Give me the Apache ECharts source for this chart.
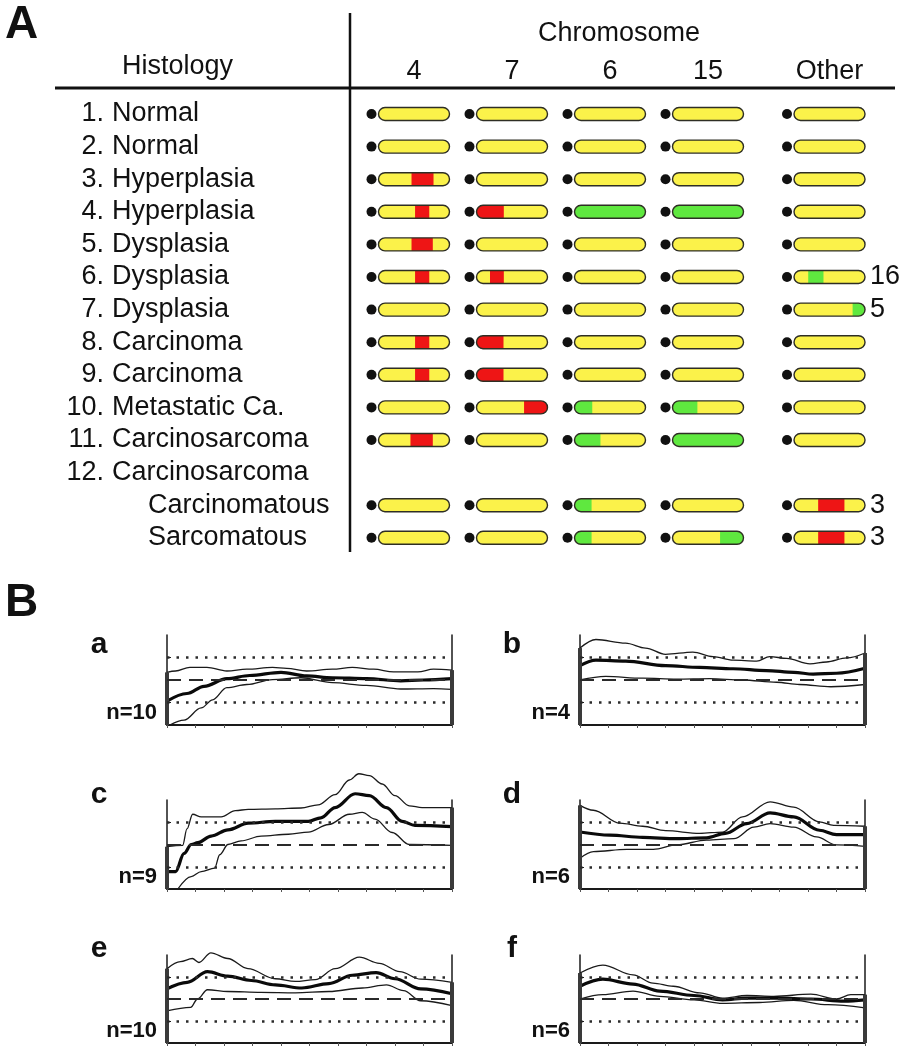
<!DOCTYPE html>
<html>
<head>
<meta charset="utf-8">
<script src="https://cdn.jsdelivr.net/npm/echarts@6/dist/echarts.min.js"></script>
<style>
  html, body { margin: 0; padding: 0; background: #fff; }
  #chart { width: 906px; height: 1050px; }
</style>
</head>
<body>
<div id="chart"></div>
<script>
const FONT = '"Liberation Sans", Arial, Helvetica, sans-serif'

// ---------- Panel A data ----------
const chromosomes = ['4', '7', '6', '15', 'Other']
const rowNumbers = ['1.', '2.', '3.', '4.', '5.', '6.', '7.', '8.', '9.', '10.', '11.', '12.', '', '']
const rowNames = ['Normal', 'Normal', 'Hyperplasia', 'Hyperplasia', 'Dysplasia', 'Dysplasia', 'Dysplasia',
  'Carcinoma', 'Carcinoma', 'Metastatic Ca.', 'Carcinosarcoma', 'Carcinosarcoma', 'Carcinomatous', 'Sarcomatous']
const rowsWithoutBars = [11]
// [row, chromosome column, from, to] as fraction of chromosome length
const gains = [
  [2, 0, 0.465, 0.775], [3, 0, 0.515, 0.715], [4, 0, 0.465, 0.765], [5, 0, 0.515, 0.715],
  [7, 0, 0.515, 0.715], [8, 0, 0.515, 0.715], [10, 0, 0.45, 0.765],
  [3, 1, 0, 0.385], [5, 1, 0.19, 0.385], [7, 1, 0, 0.38], [8, 1, 0, 0.38], [9, 1, 0.67, 1],
  [12, 4, 0.34, 0.71], [13, 4, 0.34, 0.71]
]
const losses = [
  [3, 2, 0, 1], [9, 2, 0, 0.25], [10, 2, 0, 0.365], [12, 2, 0, 0.24], [13, 2, 0, 0.24],
  [3, 3, 0, 1], [9, 3, 0, 0.35], [10, 3, 0, 1], [13, 3, 0.67, 1],
  [5, 4, 0.2, 0.415], [6, 4, 0.825, 1]
]
// chromosome number noted for the "Other" column
const otherNotes = [[5, '16'], [6, '5'], [12, '3'], [13, '3']]

// ---------- Panel B data (x: position along chromosome, y: ratio) ----------
const aHigh = [[0, 1.17], [0.3, 1.2], [0.8, 1.28], [1.4, 1.28], [2.1, 1.2], [2.8, 1.24], [3.7, 1.28], [4.2, 1.26], [4.9, 1.2], [5.8, 1.24], [6.5, 1.28], [7.25, 1.24], [7.95, 1.18], [8.8, 1.18], [9.35, 1.24], [10, 1.22]]
const aMean = [[0, 0.53], [0.7, 0.7], [1.3, 0.86], [2.1, 1.03], [2.9, 1.1], [4.0, 1.17], [4.9, 1.09], [5.8, 1.05], [7.0, 1.03], [8.2, 0.98], [9.0, 1.0], [10, 1.03]]
const aLow = [[0.1, 0], [0.6, 0.11], [1.2, 0.38], [1.6, 0.56], [2.1, 0.83], [2.8, 0.9], [3.7, 1.01], [4.7, 1.05], [5.8, 0.94], [7.0, 0.88], [8.2, 0.8], [9.35, 0.81], [10, 0.79]]

const bHigh = [[0, 1.71], [0.56, 1.9], [1.6, 1.82], [2.3, 1.71], [3.0, 1.57], [3.96, 1.62], [4.67, 1.52], [5.37, 1.44], [6.2, 1.42], [6.66, 1.52], [7.25, 1.48], [8.07, 1.36], [8.65, 1.4], [9.36, 1.49], [10, 1.6]]
const bMean = [[0, 1.32], [0.56, 1.44], [1.6, 1.42], [3.0, 1.32], [4.2, 1.28], [5.37, 1.25], [6.54, 1.21], [7.5, 1.17], [8.18, 1.13], [9.0, 1.15], [10, 1.26]]
const bLow = [[0, 1.0], [0.9, 1.08], [2.2, 1.04], [3.4, 1.02], [4.55, 1.03], [5.7, 1.0], [6.9, 0.95], [7.7, 0.9], [8.8, 0.85], [10, 0.9]]

const cHigh = [[0, 0.95], [0.55, 0.98], [0.7, 1.35], [0.9, 1.68], [1.2, 1.62], [1.9, 1.62], [2.4, 1.76], [2.85, 1.79], [3.8, 1.8], [4.7, 1.82], [5.3, 1.89], [5.9, 2.12], [6.4, 2.45], [6.73, 2.59], [7.1, 2.55], [7.55, 2.36], [8.0, 2.1], [8.5, 1.87], [8.95, 1.83], [10, 1.83]]
const cMean = [[0, 0.39], [0.3, 0.39], [0.6, 0.8], [0.85, 1.0], [1.08, 1.04], [1.55, 1.19], [2.14, 1.33], [2.85, 1.48], [3.8, 1.52], [4.96, 1.52], [5.4, 1.6], [5.9, 1.83], [6.6, 2.14], [7.1, 2.1], [7.7, 1.83], [8.25, 1.52], [8.7, 1.43], [10, 1.4]]
const cLow = [[0.38, 0], [0.85, 0.28], [1.2, 0.39], [1.67, 0.47], [1.85, 0.77], [2.14, 1.0], [2.6, 1.08], [3.3, 1.19], [4.26, 1.23], [4.96, 1.28], [5.67, 1.45], [6.4, 1.68], [6.85, 1.72], [7.3, 1.57], [7.9, 1.27], [8.5, 1.0], [10, 0.98]]

const dHigh = [[0, 1.88], [0.47, 1.77], [1.4, 1.48], [2.2, 1.41], [3.0, 1.31], [4.2, 1.25], [5.0, 1.28], [5.7, 1.62], [6.67, 1.96], [7.5, 1.84], [8.4, 1.51], [8.9, 1.43], [10, 1.41]]
const dMean = [[0, 1.28], [1.05, 1.21], [2.2, 1.16], [3.4, 1.13], [4.44, 1.15], [5.1, 1.25], [5.85, 1.47], [6.67, 1.71], [7.5, 1.62], [8.4, 1.32], [9.0, 1.22], [10, 1.22]]
const dLow = [[0, 0.69], [0.47, 0.84], [1.64, 0.89], [2.57, 0.89], [3.4, 0.99], [4.44, 1.1], [5.4, 1.13], [6.1, 1.39], [6.67, 1.47], [7.5, 1.39], [8.3, 1.17], [9.0, 0.99], [10, 0.96]]

const eHigh = [[0, 1.69], [0.47, 1.85], [0.89, 1.92], [1.12, 1.83], [1.54, 2.05], [2.13, 1.92], [2.84, 1.69], [3.8, 1.46], [4.5, 1.4], [5.2, 1.44], [5.9, 1.69], [6.75, 1.95], [7.45, 1.81], [8.17, 1.62], [8.9, 1.45], [10, 1.38]]
const eMean = [[0, 1.23], [0.71, 1.38], [1.42, 1.62], [2.13, 1.52], [2.96, 1.42], [3.8, 1.32], [4.73, 1.25], [5.68, 1.35], [6.5, 1.54], [7.34, 1.6], [8.0, 1.46], [8.9, 1.23], [10, 1.12]]
const eLow = [[0, 0.73], [0.83, 0.81], [1.07, 1.0], [1.42, 1.21], [2.13, 1.17], [3.3, 1.15], [4.5, 1.14], [5.68, 1.17], [6.86, 1.25], [7.7, 1.32], [8.3, 1.19], [8.9, 0.96], [10, 0.85]]

const fHigh = [[0, 1.59], [0.8, 1.77], [1.86, 1.55], [2.56, 1.36], [3.27, 1.29], [4.2, 1.14], [5.0, 1.02], [5.86, 1.08], [6.8, 1.06], [8.1, 1.11], [9.0, 1.0], [9.5, 1.1], [10, 1.1]]
const fMean = [[0, 1.29], [0.8, 1.45], [1.86, 1.34], [2.8, 1.18], [4.0, 1.08], [5.0, 0.98], [5.86, 1.02], [6.9, 1.02], [8.1, 1.0], [9.27, 0.95], [10, 0.98]]
const fLow = [[0, 1.0], [0.8, 1.1], [1.86, 1.18], [2.8, 1.06], [4.0, 0.98], [5.0, 0.9], [6.3, 0.92], [7.5, 0.97], [8.7, 0.87], [10, 0.8]]

const panelLetters = ['a', 'b', 'c', 'd', 'e', 'f']
const panelCounts = ['n=10', 'n=4', 'n=9', 'n=6', 'n=10', 'n=6']
const panelCurves = [[aHigh, aMean, aLow], [bHigh, bMean, bLow], [cHigh, cMean, cLow],
  [dHigh, dMean, dLow], [eHigh, eMean, eLow], [fHigh, fMean, fLow]]

// ---------- layout ----------
const YELLOW = '#fbf24a'
const RED = '#ee1515'
const GREEN = '#5fe83f'
const BAR_LEN = 71
const BAR_H = 13
const TEXT_SIZE = 27
// column centres on the panel A x axis (the "Other" column sits a little further right)
const columnPos = [0.5, 1.5, 2.5, 3.5, 4.74]

// left, top, height of each B panel plot area (width 285)
const panelBoxes = [[167, 635, 90], [580, 635, 90], [167, 800, 89], [580, 800, 89], [167, 955, 88], [580, 955, 88]]
const letterY = [645, 645, 795, 795, 949, 949]

const chart = echarts.init(document.getElementById('chart'), null, { renderer: 'canvas' })

// 染色体单元格
const cells = []
rowNames.forEach((name, r) => {
  if (rowsWithoutBars.includes(r)) return
  chromosomes.forEach((c, k) => {
    const segs = []
    gains.forEach(g => { if (g[0] === r && g[1] === k) segs.push([g[2], g[3], RED]) })
    losses.forEach(g => { if (g[0] === r && g[1] === k) segs.push([g[2], g[3], GREEN]) })
    cells.push({ value: [columnPos[k], r], segs })
  })
})

const renderChromosome = (params, api) => {
  const cell = cells[params.dataIndex]
  const [cx, cy] = api.coord([api.value(0), api.value(1)])
  const x0 = cx - BAR_LEN / 2
  const y0 = cy - BAR_H / 2
  const rr = BAR_H / 2
  const children = [{
    type: 'rect',
    shape: { x: x0, y: y0, width: BAR_LEN, height: BAR_H, r: rr },
    style: { fill: YELLOW }
  }]
  cell.segs.forEach(([from, to, color]) => {
    const left = from <= 0 ? rr : 0
    const right = to >= 1 ? rr : 0
    children.push({
      type: 'rect',
      shape: { x: x0 + from * BAR_LEN, y: y0, width: (to - from) * BAR_LEN, height: BAR_H, r: [left, right, right, left] },
      style: { fill: color }
    })
  })
  children.push({
    type: 'rect',
    shape: { x: x0, y: y0, width: BAR_LEN, height: BAR_H, r: rr },
    style: { fill: 'none', stroke: '#2e2e24', lineWidth: 1.4 }
  })
  children.push({
    type: 'circle',
    shape: { cx: x0 - 7, cy, r: 5 },
    style: { fill: '#111' }
  })
  return { type: 'group', children }
}

const renderRowLabel = (params, api) => {
  const r = api.value(1)
  const cy = api.coord([0, r])[1]
  const textStyle = { font: `${TEXT_SIZE}px ${FONT}`, fill: '#111', textVerticalAlign: 'middle' }
  const children = []
  if (rowNumbers[r]) {
    children.push({ type: 'text', style: { ...textStyle, text: rowNumbers[r], x: 104, y: cy, textAlign: 'right' } })
  }
  children.push({
    type: 'text',
    style: { ...textStyle, text: rowNames[r], x: rowNumbers[r] ? 112 : 148, y: cy, textAlign: 'left' }
  })
  return { type: 'group', children }
}

const renderNote = (params, api) => {
  const [cx, cy] = api.coord([api.value(0), api.value(1)])
  return {
    type: 'text',
    style: { text: otherNotes[params.dataIndex][1], x: cx + BAR_LEN / 2 + 5, y: cy, textAlign: 'left', textVerticalAlign: 'middle', font: `${TEXT_SIZE}px ${FONT}`, fill: '#111' }
  }
}

// ---------- grids & axes ----------
const grids = [{ left: 365, width: 490, top: 97.7, height: 456.4 }]
const xAxes = [{
  type: 'value', gridIndex: 0, min: 0, max: 5, position: 'top',
  axisLine: { show: false }, axisTick: { show: false }, splitLine: { show: false },
  axisLabel: {
    customValues: columnPos,
    formatter: v => chromosomes[columnPos.indexOf(v)] || '',
    fontSize: TEXT_SIZE, fontFamily: FONT, color: '#111', margin: 13
  }
}]
const yAxes = [{
  type: 'category', gridIndex: 0, data: rowNames.map((n, i) => i), inverse: true,
  axisLine: { show: false }, axisTick: { show: false }, axisLabel: { show: false }
}]

const series = [
  { type: 'custom', xAxisIndex: 0, yAxisIndex: 0, data: cells.map(c => c.value), renderItem: renderChromosome, silent: true, clip: false },
  { type: 'custom', xAxisIndex: 0, yAxisIndex: 0, data: rowNames.map((n, i) => [0, i]), renderItem: renderRowLabel, silent: true, clip: false },
  { type: 'custom', xAxisIndex: 0, yAxisIndex: 0, data: otherNotes.map(n => [columnPos[4], n[0]]), renderItem: renderNote, silent: true, clip: false }
]

const lineColor = '#1a1a1a'
panelBoxes.forEach(([left, top, height], i) => {
  const g = i + 1
  grids.push({ left, top, width: 285, height })
  xAxes.push({
    type: 'value', gridIndex: g, min: 0, max: 10, interval: 1,
    axisLine: { show: true, onZero: false, lineStyle: { color: lineColor, width: 2 } },
    axisTick: { show: true, length: 3, lineStyle: { color: '#555', width: 1 } },
    axisLabel: { show: false }, splitLine: { show: false }
  })
  yAxes.push({
    type: 'value', gridIndex: g, min: 0, max: 2, interval: 0.5,
    axisLine: { show: true, lineStyle: { color: lineColor, width: 1.5 } },
    axisTick: { show: true, inside: true, length: 4, customValues: [0.5, 1, 1.5], lineStyle: { color: lineColor } },
    axisLabel: { show: false }, splitLine: { show: false }
  })
  yAxes.push({
    type: 'value', gridIndex: g, min: 0, max: 2, interval: 0.5, position: 'right',
    axisLine: { show: true, lineStyle: { color: lineColor, width: 1.5 } },
    axisTick: { show: false }, axisLabel: { show: false }, splitLine: { show: false }
  })

  const [high, mean, low] = panelCurves[i]
  const xi = g
  const yi = 2 * i + 1
  const base = { type: 'line', xAxisIndex: xi, yAxisIndex: yi, symbol: 'none', smooth: 0.35, smoothMonotone: 'x', clip: false, silent: true, z: 4 }

  series.push({
    ...base, data: low, lineStyle: { color: lineColor, width: 1.3 }, z: 3,
    markLine: {
      silent: true, symbol: 'none', label: { show: false },
      data: [
        { yAxis: 1.5, lineStyle: { type: [2.5, 7], width: 2.5, color: '#2a2a2a' } },
        { yAxis: 1, lineStyle: { type: [14, 8], width: 2, color: '#2a2a2a' } },
        { yAxis: 0.5, lineStyle: { type: [2.5, 7], width: 2.5, color: '#2a2a2a' } }
      ]
    }
  })
  series.push({ ...base, data: high, lineStyle: { color: lineColor, width: 1.3 } })
  series.push({ ...base, data: mean, lineStyle: { color: '#0a0a0a', width: 3.2 } })

  // closed ends of the profile at both chromosome ends
  const startTop = Math.max(high[0][1], mean[0][1], low[0][1])
  const endTop = Math.max(high[high.length - 1][1], mean[mean.length - 1][1], low[low.length - 1][1])
  series.push({ ...base, smooth: false, data: [[0, startTop], [0, 0]], lineStyle: { color: '#3a3a3a', width: 4 } })
  series.push({ ...base, smooth: false, data: [[10, endTop], [10, 0]], lineStyle: { color: '#3a3a3a', width: 4 } })
})

// ---------- texts & rules ----------
const graphic = [
  { type: 'text', left: 5, top: 2, style: { text: 'A', font: `bold 46px ${FONT}`, fill: '#111' } },
  { type: 'text', left: 5, top: 580, style: { text: 'B', font: `bold 46px ${FONT}`, fill: '#111' } },
  { type: 'text', x: 619, y: 34, style: { text: 'Chromosome', font: `${TEXT_SIZE}px ${FONT}`, fill: '#111', textAlign: 'center', textVerticalAlign: 'middle' } },
  { type: 'text', x: 122, y: 67, style: { text: 'Histology', font: `${TEXT_SIZE}px ${FONT}`, fill: '#111', textAlign: 'left', textVerticalAlign: 'middle' } },
  { type: 'line', shape: { x1: 55, y1: 88, x2: 895, y2: 88 }, style: { stroke: '#111', lineWidth: 3 } },
  { type: 'line', shape: { x1: 350, y1: 13, x2: 350, y2: 552 }, style: { stroke: '#111', lineWidth: 2.5 } }
]
panelBoxes.forEach(([left, top, height], i) => {
  graphic.push({ type: 'text', x: left - 68, y: letterY[i], style: { text: panelLetters[i], font: `bold 30px ${FONT}`, fill: '#111', textAlign: 'center', textVerticalAlign: 'middle' } })
  graphic.push({ type: 'text', x: left - 10, y: top + height - 12, style: { text: panelCounts[i], font: `bold 22px ${FONT}`, fill: '#111', textAlign: 'right', textVerticalAlign: 'middle' } })
})

chart.setOption({
  backgroundColor: '#fff',
  animation: false,
  grid: grids,
  xAxis: xAxes,
  yAxis: yAxes,
  series,
  graphic
})
</script>
</body>
</html>
